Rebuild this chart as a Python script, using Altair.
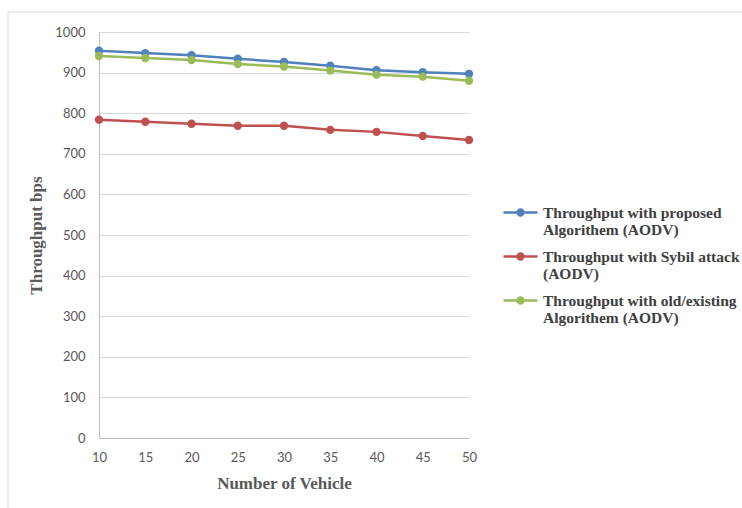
import altair as alt
import pandas as pd

vehicles = [10, 15, 20, 25, 30, 35, 40, 45, 50]
proposed = [954, 948, 943, 934, 926, 917, 906, 901, 897]
sybil = [784, 779, 774, 769, 769, 759, 754, 744, 734]
existing = [941, 936, 931, 921, 915, 905, 895, 890, 880]

series_names = [
    "Throughput with proposed|Algorithem (AODV)",
    "Throughput with Sybil attack|(AODV)",
    "Throughput with old/existing|Algorithem (AODV)",
]
colors = ["#4F81BD", "#C0504D", "#9BBB59"]

rows = []
for name, vals in zip(series_names, [proposed, sybil, existing]):
    for v, t in zip(vehicles, vals):
        rows.append({"vehicles": v, "throughput": t, "series": name})
df = pd.DataFrame(rows)

color = alt.Color(
    "series:N",
    scale=alt.Scale(domain=series_names, range=colors),
    legend=alt.Legend(
        title=None,
        orient="none",
        legendX=403,
        legendY=162,
        labelExpr="split(datum.label, '|')",
        labelFont="Liberation Serif",
        labelFontWeight="bold",
        labelFontSize=15.5,
        labelColor="#404040",
        labelLimit=300,
        rowPadding=0,
        symbolType="M -1 0 H 1 M -0.17 0 A 0.17 0.17 0 1 1 0.17 0 A 0.17 0.17 0 1 1 -0.17 0",
        symbolSize=1156,
        symbolStrokeWidth=2.5,
        labelOffset=4,
    ),
)

x = alt.X(
    "vehicles:Q",
    scale=alt.Scale(domain=[10, 50], nice=False, zero=False),
    axis=alt.Axis(
        title="Number of Vehicle",
        values=vehicles,
        grid=False,
        ticks=False,
        labelFlush=False,
        domainColor="#BFBFBF",
        labelFont="Lato",
        labelFontSize=13,
        labelColor="#595959",
        labelPadding=13,
        titleFont="Liberation Serif",
        titleFontWeight="bold",
        titleFontSize=17,
        titleColor="#595959",
        titlePadding=11,
    ),
)
y = alt.Y(
    "throughput:Q",
    scale=alt.Scale(domain=[0, 1000], nice=False),
    axis=alt.Axis(
        title="Throughput bps",
        values=list(range(0, 1001, 100)),
        format="d",
        ticks=False,
        labelFlush=False,
        gridColor="#D9D9D9",
        domainColor="#BFBFBF",
        labelFont="Lato",
        labelFontSize=13,
        labelColor="#595959",
        labelPadding=14,
        titleFont="Liberation Serif",
        titleFontWeight="bold",
        titleFontSize=17,
        titleColor="#595959",
        titlePadding=9,
    ),
)

frame = alt.Chart(pd.DataFrame({"a": [0]})).mark_rect(
    fillOpacity=0, stroke="#D9D9D9", strokeWidth=1
).encode(
    x=alt.value(-91), x2=alt.value(720), y=alt.value(-20), y2=alt.value(540)
)

lines = alt.Chart(df).mark_line(strokeWidth=2.5).encode(
    x=x, y=y, color=color, order="vehicles:Q"
)
points = alt.Chart(df).mark_point(filled=True, size=70, opacity=1).encode(
    x=x, y=y, color=color
)

chart = alt.layer(frame, lines, points).properties(
    width=370,
    height=406,
    padding={"left": 99, "top": 32, "right": 273, "bottom": 70},
    autosize=alt.AutoSizeParams(type="none"),
    background="white",
).configure(
    style={"guide-label": {"lineHeight": 17}}
).configure_view(stroke=None)

chart.save("out.html", embed_options={"renderer": "svg", "actions": False})
